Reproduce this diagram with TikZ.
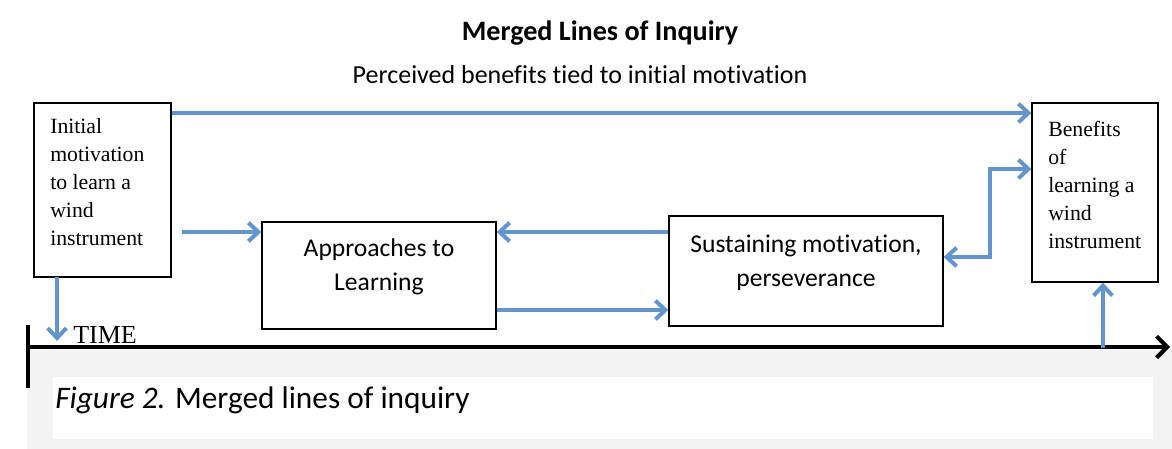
\documentclass[tikz,border=0pt]{standalone}
\usepackage{fontspec}
\setmainfont{Carlito}[Ligatures=NoCommon]
\newfontfamily\timesfont{Liberation Serif}
\usetikzlibrary{arrows.meta}
\definecolor{flowblue}{RGB}{98,149,205}
\definecolor{capgray}{RGB}{243,243,243}

\begin{document}
\begin{tikzpicture}[
    x=0.75pt, y=-0.75pt,
    box/.style={draw, line width=1pt, inner sep=0pt},
    flow/.style={draw=flowblue, line width=3pt, -{Straight Barb[length=7.5pt,width=14pt]}},
    boxtext/.style={font=\timesfont\fontsize{16.3}{21}\selectfont, align=left, inner sep=0pt, anchor=north west},
    stagetext/.style={font=\fontsize{19.2}{25.5}\selectfont, align=center, inner sep=0pt}
  ]

  \useasboundingbox (0,0) rectangle (1172,449);
  \fill[capgray] (27,350) rectangle (1172,449);
  \fill[white] (53,377) rectangle (1153,439);

  % titles
  \node[font=\bfseries\fontsize{21.1}{25}\selectfont] (title) at (600,33) {Merged Lines of Inquiry};
  \node[font=\fontsize{19.5}{23}\selectfont] (tied) at (580,75) {Perceived benefits tied to initial motivation};

  % boxes
  \node[box, minimum width=102.75pt, minimum height=130.5pt] (initial) at (102.5,190) {};
  \node[box, minimum width=94.5pt, minimum height=134.25pt] (benefits) at (1095,192.5) {};
  \node[box, minimum width=175.5pt, minimum height=80.25pt] (approaches) at (379,275.5) {};
  \node[box, minimum width=205.5pt, minimum height=82.5pt] (sustaining) at (806,271) {};

  \node[boxtext] (initialtext) at (50,118) {Initial\\motivation\\to learn a\\wind\\instrument};
  \node[boxtext] (benefitstext) at (1048,121) {Benefits\\of\\learning a\\wind\\instrument};
  \node[stagetext] (approachestext) at (379,266.5) {Approaches to\\Learning};
  \node[stagetext] (sustainingtext) at (806,263) {Sustaining motivation,\\perseverance};

  % time line
  \coordinate (tstart) at (28,347);
  \coordinate (tend) at (1170,347);
  \draw[line width=3pt, -{Straight Barb[length=8pt,width=16pt]}] (tstart) -- (tend);
  \draw[line width=3pt] (28,325) -- (28,388);
  \node[font=\timesfont\fontsize{19.5}{24}\selectfont, anchor=base west, inner sep=0pt] (time) at (73,344) {TIME};

  \node[font=\fontsize{23.5}{28}\selectfont, anchor=base west, inner sep=0pt] (caption) at (55,408) {\textit{Figure 2.} Merged lines of inquiry};

  % connectors
  \draw[flow] (initial.east |- 0,113) -- (benefits.west |- 0,113);
  \draw[flow] (182,232) -- (approaches.west |- 0,232);
  \draw[flow] (57,277) -- (57,341);
  \draw[flow] (sustaining.west |- 0,232) -- (approaches.east |- 0,232);
  \draw[flow] (approaches.east |- 0,310) -- (sustaining.west |- 0,310);
  \draw[flow, {Straight Barb[length=7.5pt,width=14pt]}-{Straight Barb[length=7.5pt,width=14pt]}] (sustaining.east |- 0,257) -| (990,169) -- (benefits.west |- 0,169);
  \draw[flow] (benefits.south -| 1103,0) ++(0,65) -- (benefits.south -| 1103,0);

\end{tikzpicture}
\end{document}
